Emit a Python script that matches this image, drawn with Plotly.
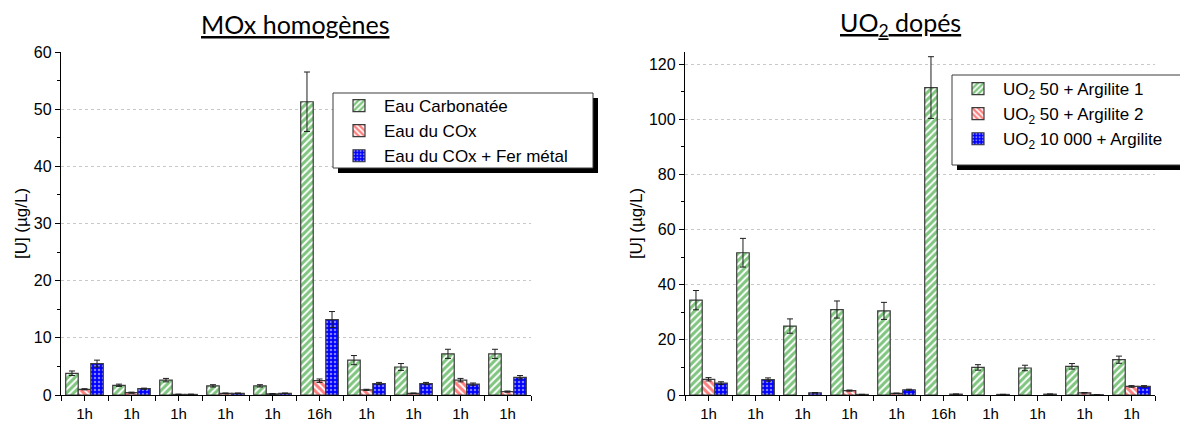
import plotly.graph_objects as go

# =============================================================================
# Data
# =============================================================================
labels = ["1h", "1h", "1h", "1h", "1h", "16h", "1h", "1h", "1h", "1h"]

mox_names = ["Eau Carbonatée", "Eau du COx", "Eau du COx + Fer métal"]
mox_carb = [3.8, 1.7, 2.6, 1.6, 1.6, 51.3, 6.1, 4.9, 7.2, 7.2]
mox_carb_err = [0.4, 0.2, 0.3, 0.2, 0.2, 5.2, 0.8, 0.6, 0.8, 0.8]
mox_cox = [1.0, 0.4, 0.1, 0.3, 0.2, 2.5, 0.9, 0.3, 2.6, 0.6]
mox_cox_err = [0.1, 0.1, 0.05, 0.05, 0.05, 0.3, 0.1, 0.05, 0.3, 0.1]
mox_fer = [5.5, 1.1, 0.1, 0.3, 0.3, 13.2, 2.0, 2.0, 1.9, 3.1]
mox_fer_err = [0.6, 0.1, 0.05, 0.05, 0.05, 1.4, 0.2, 0.2, 0.2, 0.3]

uo2_names = ["UO<sub>2</sub> 50 + Argilite 1", "UO<sub>2</sub> 50 + Argilite 2",
             "UO<sub>2</sub> 10 000 + Argilite"]
uo2_arg1 = [34.4, 51.6, 25.0, 31.0, 30.5, 111.5, 10.0, 9.8, 10.4, 12.8]
uo2_arg1_err = [3.5, 5.2, 2.6, 3.1, 3.1, 11.2, 1.0, 1.0, 1.0, 1.3]
uo2_arg2 = [5.7, None, None, 1.6, 0.6, None, None, None, 0.8, 3.1]
uo2_arg2_err = [0.6, 0, 0, 0.2, 0.1, 0, 0, 0, 0.1, 0.3]
uo2_10000 = [4.3, 5.6, 0.8, 0.2, 1.9, 0.3, 0.2, 0.3, 0.1, 3.1]
uo2_10000_err = [0.5, 0.6, 0.1, 0.05, 0.2, 0.05, 0.05, 0.05, 0.02, 0.3]

# =============================================================================
# Styles
# =============================================================================
GREEN = "rgb(0,140,0)"
styles = [
    dict(color="white", pattern=dict(shape="/", fgcolor=GREEN, bgcolor="white",
                                     fillmode="overlay", size=5, solidity=0.6)),
    dict(color="white", pattern=dict(shape="\\", fgcolor="rgb(255,0,0)", bgcolor="white",
                                     fillmode="overlay", size=5, solidity=0.6)),
    dict(color="blue", pattern=dict(shape=".", fgcolor="white",
                                    fillmode="overlay", size=4, solidity=0.3)),
]

FONT = "Liberation Sans, Arial, sans-serif"
TFONT = "Lato, Open Sans, sans-serif"
W, H = 1180, 415          # page body adds 8px around the figure
T, B = 44, 28
PH = H - T - B
x = list(range(len(labels)))

fig = go.Figure()


def add_bars(names, values, errors, xaxis, yaxis, legend):
    for name, v, e, st in zip(names, values, errors, styles):
        fig.add_trace(go.Bar(
            x=x, y=v, name=name, xaxis=xaxis, yaxis=yaxis, legend=legend,
            marker=dict(color=st["color"], pattern=st["pattern"],
                        line=dict(color="rgb(60,60,60)", width=1.2)),
            error_y=dict(type="data", array=e, color="rgb(30,30,30)",
                         thickness=1, width=3),
        ))


add_bars(mox_names, [mox_carb, mox_cox, mox_fer],
         [mox_carb_err, mox_cox_err, mox_fer_err], "x", "y", "legend")
add_bars(uo2_names, [uo2_arg1, uo2_arg2, uo2_10000],
         [uo2_arg1_err, uo2_arg2_err, uo2_10000_err], "x2", "y2", "legend2")

xcommon = dict(
    tickmode="array", tickvals=x, ticktext=labels, range=[-0.5, 9.5],
    showline=True, linecolor="black", linewidth=1.3,
    ticks="outside", ticklen=5, tickcolor="black", showgrid=False,
    tickfont=dict(family=FONT, size=15, color="black"),
    minor=dict(tickmode="array", tickvals=[i + 0.5 for i in range(-1, 10)],
               ticks="outside", ticklen=5, tickcolor="black", showgrid=False),
)
ycommon = dict(
    showline=True, linecolor="black", linewidth=1.3,
    ticks="outside", ticklen=5, tickcolor="black",
    showgrid=True, gridcolor="rgb(200,200,200)", griddash="dot", gridwidth=1,
    zeroline=False,
    tickfont=dict(family=FONT, size=16, color="black"),
    title=dict(text="[U] (µg/L)", font=dict(family=FONT, size=17, color="black"),
               standoff=1),
)


def px(xp):
    return (xp - 8) / W


def py(yp):
    return (H - B - (yp - 8)) / PH


legend_common = dict(xanchor="left", yanchor="top", bgcolor="rgba(0,0,0,0)",
                     borderwidth=0,
                     font=dict(family=FONT, size=17, color="black"),
                     itemwidth=40, tracegroupgap=0)

# legend frames (box, drop shadow)
frames = [(333, 93, 593, 168), (952, 75, 1186, 165)]
shapes = []
for a, b, c, d in frames:
    shapes.append(dict(type="rect", xref="paper", yref="paper", layer="above",
                       x0=px(a + 5), y0=py(b + 5), x1=px(c + 5), y1=py(d + 5),
                       fillcolor="black", line=dict(width=0)))
    shapes.append(dict(type="rect", xref="paper", yref="paper", layer="above",
                       x0=px(a), y0=py(b), x1=px(c), y1=py(d),
                       fillcolor="white", line=dict(color="rgb(60,60,60)", width=1)))

fig.update_layout(
    width=W, height=H,
    margin=dict(l=0, r=0, t=T, b=B),
    plot_bgcolor="white", paper_bgcolor="white",
    barmode="group", bargap=0.2, bargroupgap=0,
    xaxis=dict(domain=[px(61), px(531)], anchor="y", **xcommon),
    xaxis2=dict(domain=[px(685), px(1155)], anchor="y2", **xcommon),
    yaxis=dict(anchor="x", range=[0, 60], dtick=10,
               minor=dict(dtick=5, ticks="outside", ticklen=3, tickcolor="black"),
               **ycommon),
    yaxis2=dict(anchor="x2", range=[0, 124.4], dtick=20,
                minor=dict(dtick=10, ticks="outside", ticklen=3, tickcolor="black"),
                **ycommon),
    legend=dict(x=px(334), y=py(88), **legend_common),
    legend2=dict(x=px(953), y=py(71), **legend_common),
    shapes=shapes,
    annotations=[
        dict(text="<u>MOx homogènes</u>", x=px(295), y=py(24), xref="paper",
             yref="paper", xanchor="center", yanchor="middle", showarrow=False,
             font=dict(family=TFONT, size=25, color="black")),
        dict(text="<u>UO<sub>2</sub> dopés</u>", x=px(900), y=py(24), xref="paper",
             yref="paper", xanchor="center", yanchor="middle", showarrow=False,
             font=dict(family=TFONT, size=25, color="black")),
    ],
)

fig.write_html("out.html")
